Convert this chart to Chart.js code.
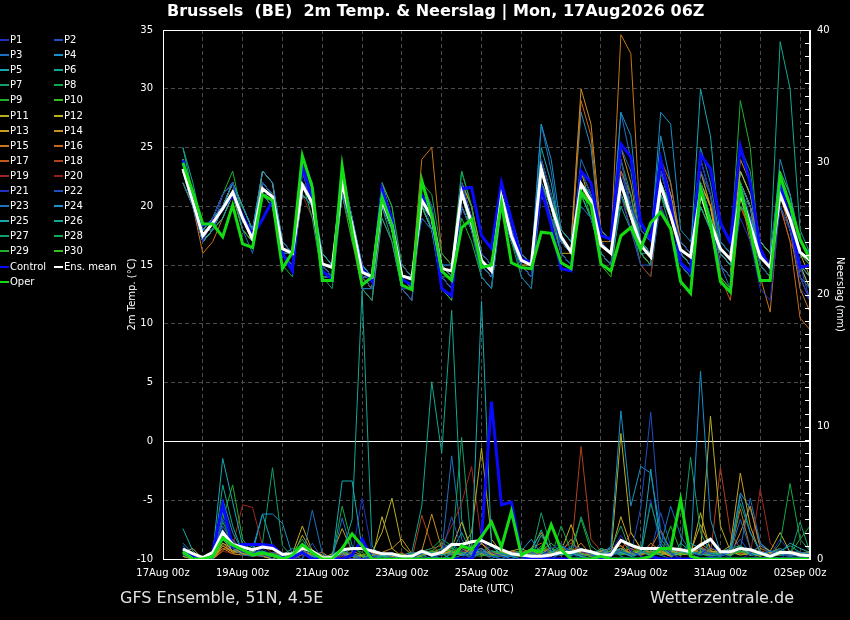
<!DOCTYPE html>
<html>
<head>
<meta charset="utf-8">
<script src="https://cdn.jsdelivr.net/npm/chart.js@4.4.1/dist/chart.umd.min.js"></script>
<style>
  html, body { margin: 0; padding: 0; background: #000; }
  #wrap { position: relative; width: 850px; height: 620px; background: #000; font-family: "DejaVu Sans", sans-serif; color: #fff; overflow: hidden; }
  #chart { position: absolute; left: 0; top: 0; }
  .title { position: absolute; left: 167px; top: 1px; font-weight: bold; font-size: 16px; line-height: 19px; white-space: pre; }
  .foot { position: absolute; top: 588px; font-size: 16px; line-height: 19px; color: #e0e0e0; }
  #legend { position: absolute; left: 0; top: 0; width: 135px; height: 300px; font-size: 10px; }
  .item { position: absolute; height: 12px; line-height: 12px; white-space: nowrap; }
  .item i { position: absolute; left: 0; top: 5px; width: 9px; height: 2px; }
  .item span { position: absolute; left: 10px; top: 0; }
</style>
</head>
<body>
<div id="wrap">
  <canvas id="chart" width="850" height="620"></canvas>
  <div class="title">Brussels  (BE)  2m Temp. &amp; Neerslag | Mon, 17Aug2026 06Z</div>
  <div class="foot" style="left:120px">GFS Ensemble, 51N, 4.5E</div>
  <div class="foot" style="right:56px">Wetterzentrale.de</div>
  <div id="legend"></div>
</div>
<script>
// forecast hours after 17Aug 00z (6-hourly)
const hours = [12,18,24,30,36,42,48,54,60,66,72,78,84,90,96,102,108,114,120,126,132,138,144,150,156,162,168,174,180,186,192,198,204,210,216,222,228,234,240,246,252,258,264,270,276,282,288,294,300,306,312,318,324,330,336,342,348,354,360,366,372,378,384,390];

const dayLabels = ['17Aug 00z','18Aug 00z','19Aug 00z','20Aug 00z','21Aug 00z','22Aug 00z','23Aug 00z','24Aug 00z','25Aug 00z','26Aug 00z','27Aug 00z','28Aug 00z','29Aug 00z','30Aug 00z','31Aug 00z','01Sep 00z','02Sep 00z'];

const memberNames = ['P1','P2','P3','P4','P5','P6','P7','P8','P9','P10','P11','P12','P13','P14','P15','P16','P17','P18','P19','P20','P21','P22','P23','P24','P25','P26','P27','P28','P29','P30'];

const memberColors = ['#1e30c0','#1e50c0','#1a70c0','#1890c8','#18a8b0','#10a890','#10a068','#10a848','#20b030','#30c020',
                      '#b8b020','#c0b020','#c8a020','#c89020','#c87818','#c86818','#c05818','#b04020','#a02820','#902020',
                      '#2030c0','#2050c0','#2070c0','#2090c8','#18a8b0','#10a890','#10a070','#10a850','#20b030','#30c020'];

// 2m temperature (°C)
const meanTemp = [23.2,20.4, 17.5,18.6,19.8,21.2, 19.0,17.2,21.5,20.8, 16.4,16.0,21.8,20.3, 15.1,14.8,22.0,18.4, 14.4,14.0,20.5,18.4, 14.1,13.8,20.5,19.1, 14.7,14.5,21.2,18.6, 15.4,14.5,20.8,17.5, 15.4,15.0,23.2,20.1, 17.4,16.1,21.9,20.5, 16.7,16.0,22.0,19.2, 16.7,15.7,21.8,19.2, 16.3,15.7,21.2,18.6, 16.4,15.5,21.2,18.4, 15.7,14.8,21.0,18.9, 16.1,15.4];
const controlTemp = [23.9,20.6, 18.4,18.6,19.8,21.0, 19.2,17.5,18.9,20.5, 16.0,14.5,23.4,20.6, 14.5,13.8,23.0,18.1, 14.7,13.6,21.5,18.9, 13.8,13.3,20.9,19.2, 13.0,12.4,21.5,21.6, 17.5,16.4,22.0,18.9, 15.5,15.2,21.5,18.4, 14.7,14.5,23.0,22.0, 17.5,17.2,25.3,24.2, 18.6,17.2,24.0,20.3, 15.2,14.4,24.4,23.2, 18.6,16.9,25.1,22.0, 16.4,14.7,21.8,18.9, 14.8,15.0];
const operTemp = [23.7,21.2, 18.5,18.5,17.4,20.1, 16.8,16.5,21.0,20.5, 14.7,16.1,24.3,21.6, 13.7,13.7,23.4,17.8, 13.3,14.0,20.8,18.4, 13.3,12.9,22.2,19.2, 14.5,13.7,18.2,18.9, 14.8,15.0,20.3,15.2, 14.8,14.7,17.8,17.7, 15.2,14.7,21.2,20.1, 15.1,14.5,17.5,18.2, 16.4,18.6,19.5,18.1, 13.6,12.6,21.6,18.6, 13.6,12.7,21.6,17.9, 13.7,13.7,22.6,20.1, 17.2,15.5];
const memberTemp = [
  [23,20, 17,19,21,22, 19,17,22,21, 16,15,23,20, 15,14,23,19, 14,13,21,19, 13,13,22,20, 14,13,22,19, 16,15,22,18, 15,14,24,21, 16,15,23,21, 17,16,24,20, 18,17,23,20, 17,16,22,19, 15,14,19,17, 13,12,20,18, 14,12],
  [23,21, 18,18,20,21, 19,18,21,21, 17,16,22,21, 15,15,21,18, 14,14,20,18, 15,14,19,18, 15,15,20,18, 15,14,20,17, 16,15,22,19, 17,16,20,19, 16,15,21,18, 15,15,20,18, 15,14,23,21, 17,16,22,19, 15,14,21,19, 15,12],
  [22,20, 17,19,21,22, 18,16,21,21, 16,16,21,20, 14,14,22,18, 13,13,20,18, 13,12,21,20, 14,13,22,19, 14,13,20,18, 14,13,21,20, 17,16,24,22, 18,17,25,23, 17,16,23,20, 16,15,22,19, 15,13,22,20, 16,15,20,18, 14,13],
  [24,21, 18,19,20,22, 20,18,23,22, 17,16,22,21, 16,15,23,19, 15,14,21,19, 14,14,21,19, 15,14,22,19, 15,14,21,18, 16,15,27,24, 18,17,22,21, 18,17,28,26, 18,17,28,27, 18,17,22,19, 16,15,21,19, 16,15,24,21, 17,16],
  [23,20, 17,18,19,21, 19,17,22,21, 16,16,21,20, 15,15,22,18, 15,14,21,19, 14,14,20,19, 15,15,21,19, 16,15,22,18, 16,15,25,22, 17,16,22,21, 17,16,22,20, 17,16,21,19, 17,16,30,26, 17,16,21,19, 16,15,22,20, 15,14],
  [25,21, 17,18,20,22, 19,18,22,21, 16,15,24,22, 15,14,22,19, 13,12,19,17, 13,13,20,18, 14,13,20,18, 15,14,20,17, 15,14,22,20, 16,15,21,19, 16,15,20,18, 16,16,22,20, 15,14,20,18, 15,14,20,19, 17,16,34,30, 18,16],
  [23,20, 18,19,20,21, 20,18,21,20, 16,16,22,20, 16,15,21,18, 15,14,21,18, 14,14,19,18, 15,14,21,18, 16,15,20,18, 15,14,24,21, 18,17,22,21, 17,16,24,21, 17,16,23,20, 16,15,20,18, 16,15,25,23, 16,15,22,20, 15,14],
  [24,21, 18,18,19,21, 18,17,21,20, 15,14,22,19, 14,14,21,18, 13,13,21,19, 15,14,22,21, 16,15,23,20, 15,14,21,17, 14,13,22,19, 16,15,20,19, 17,16,21,19, 16,15,21,19, 17,16,22,19, 17,16,21,18, 15,14,20,18, 16,15],
  [23,21, 18,19,21,23, 19,17,22,21, 17,16,22,21, 15,14,21,17, 14,14,22,20, 15,14,21,19, 14,14,19,17, 14,13,21,18, 15,14,23,21, 16,15,21,19, 16,15,22,19, 16,15,22,20, 16,15,21,19, 17,16,29,25, 15,14,21,19, 16,15],
  [22,20, 17,18,20,21, 19,17,21,20, 16,15,21,20, 15,14,22,18, 15,14,21,19, 14,13,20,18, 13,12,21,18, 15,15,21,18, 15,14,22,20, 16,15,21,20, 15,14,21,19, 17,16,22,20, 15,14,21,18, 14,13,20,19, 16,15,23,21, 17,16],
  [23,20, 18,19,21,22, 19,17,22,21, 16,15,23,20, 14,14,23,19, 14,13,21,18, 14,14,21,19, 15,14,22,20, 16,15,21,18, 15,15,24,21, 17,16,23,20, 16,15,21,19, 17,16,22,19, 16,15,21,18, 15,14,22,20, 16,15,21,19, 15,14],
  [24,21, 18,19,20,22, 20,18,22,21, 17,16,21,20, 16,15,23,19, 14,14,20,18, 15,14,20,18, 15,14,21,19, 15,14,20,17, 16,15,21,19, 17,16,23,21, 18,17,24,20, 17,16,23,21, 17,16,22,20, 16,15,23,21, 17,16,21,19, 16,14],
  [23,20, 17,18,20,21, 18,17,21,20, 16,15,22,20, 15,15,21,18, 14,13,22,19, 14,13,22,20, 14,13,20,18, 16,15,20,17, 15,14,23,20, 16,16,21,20, 17,16,22,19, 16,15,23,21, 16,15,20,18, 15,14,22,20, 17,16,20,18, 15,13],
  [22,20, 17,18,20,22, 19,17,23,22, 16,16,21,20, 15,14,21,18, 14,14,21,19, 15,14,21,19, 15,14,22,19, 15,14,21,18, 15,14,22,20, 18,17,30,27, 18,17,25,22, 17,16,24,21, 16,15,23,20, 15,14,24,22, 17,16,22,19, 14,12],
  [23,20, 16,17,19,21, 18,17,21,21, 16,15,22,20, 15,14,22,18, 14,13,20,18, 14,14,24,25, 16,15,20,18, 15,14,21,18, 16,15,22,19, 17,16,22,20, 17,17,34.6,33, 18,17,22,20, 15,14,22,20, 15,14,21,17, 14,11,21,18, 13,11],
  [23,21, 17,18,20,22, 19,18,22,21, 17,16,22,20, 15,14,22,18, 14,13,21,18, 14,13,21,19, 15,14,22,19, 15,14,22,18, 15,14,22,20, 17,16,29,26, 17,16,23,21, 17,16,24,22, 17,16,22,20, 16,15,22,20, 15,14,20,17, 10.5,9.5],
  [24,21, 17,19,21,22, 19,17,21,20, 16,15,22,20, 15,14,21,18, 14,13,20,18, 15,14,21,19, 14,13,21,18, 15,14,21,18, 16,15,23,20, 17,16,22,20, 17,16,21,19, 16,15,22,20, 16,15,23,21, 14,12,20,18, 16,15],
  [23,20, 18,18,20,21, 19,18,22,21, 17,16,22,21, 15,15,21,18, 15,14,21,18, 13,13,20,18, 15,14,21,19, 15,14,20,18, 15,15,22,20, 17,16,22,20, 16,15,22,19, 16,15,21,19, 16,15,21,18, 16,15,20,18, 15,14,20,17, 15,14],
  [22,20, 17,18,19,21, 18,17,21,20, 16,15,21,19, 14,14,21,17, 13,12,19,17, 13,12,20,18, 14,13,21,18, 15,14,20,17, 15,14,22,19, 16,15,21,19, 16,15,21,18, 15,14,22,20, 16,15,21,19, 14,13,20,18, 16,15,22,20, 16,15],
  [23,20, 17,18,20,21, 19,17,22,21, 17,16,21,20, 15,14,22,18, 14,13,21,19, 14,14,21,19, 16,15,22,20, 15,14,21,18, 15,14,23,20, 17,16,22,20, 16,15,21,18, 17,16,20,18, 17,16,22,19, 15,14,21,19, 16,15,20,18, 16,15],
  [24,21, 18,19,20,22, 19,17,22,21, 16,15,22,21, 15,15,23,19, 14,13,20,18, 14,14,21,19, 15,14,20,18, 15,14,22,19, 15,14,23,21, 16,15,23,21, 17,16,23,20, 17,16,23,21, 17,16,24,21, 16,15,21,19, 15,14,22,20, 13,12],
  [23,21, 17,18,21,22, 19,18,22,21, 16,15,22,20, 15,14,21,18, 14,14,21,19, 13,12,21,18, 13,12,20,18, 14,13,21,18, 15,14,21,19, 16,15,22,20, 17,16,22,21, 16,15,24,21, 16,15,22,19, 14,13,22,20, 15,14,21,19, 14,13],
  [23,20, 18,19,20,21, 19,17,22,21, 16,16,22,20, 15,14,21,18, 15,14,22,19, 14,13,21,19, 15,14,21,18, 16,15,21,18, 16,15,27,23, 17,16,21,20, 17,16,28,24, 18,17,23,20, 17,16,24,21, 17,16,21,19, 17,16,23,21, 16,15],
  [24,21, 17,18,20,22, 20,18,23,22, 17,16,21,20, 15,14,22,19, 15,14,21,19, 14,14,22,20, 15,14,22,19, 16,15,22,19, 16,15,23,20, 18,17,28,25, 17,16,22,20, 18,17,26,22, 17,16,25,22, 17,16,22,20, 15,14,21,19, 15,13],
  [23,20, 17,18,20,21, 19,17,21,20, 16,15,21,20, 15,14,22,18, 14,13,20,18, 14,13,21,19, 14,13,20,18, 15,14,21,18, 15,14,22,20, 17,16,22,20, 16,15,23,20, 17,16,22,20, 16,15,22,19, 16,15,23,21, 16,15],
  [25,22, 18,19,21,22, 20,18,23,22, 17,16,23,21, 16,15,22,19, 15,14,22,20, 14,13,21,19, 15,14,23,20, 15,14,22,19, 16,15,23,20, 16,15,22,20, 17,16,22,20, 16,15,23,20, 17,16,24,21, 16,15,23,21, 17,16],
  [23,20, 17,18,20,21, 19,17,21,20, 16,15,22,20, 14,13,21,18, 13,12,20,17, 13,12,20,18, 14,13,21,18, 14,13,20,17, 15,14,21,19, 16,15,21,19, 16,15,22,19, 15,14,21,18, 15,14,22,19, 15,14,22,20, 16,15],
  [24,21, 18,19,21,22, 19,17,22,21, 16,15,23,21, 15,14,22,19, 14,13,21,19, 14,13,21,19, 15,14,22,19, 15,14,21,18, 15,14,22,20, 17,16,22,21, 16,15,23,21, 16,15,22,20, 16,15,23,20, 17,16,22,20, 15,14],
  [23,20, 17,18,20,22, 19,17,21,20, 16,15,22,20, 15,14,21,18, 14,14,21,18, 14,14,20,19, 15,14,21,19, 15,14,21,18, 16,15,22,20, 16,15,22,19, 16,15,21,19, 16,15,21,19, 16,15,22,20, 16,15,21,20, 16,15],
  [24,21, 18,19,20,22, 19,18,22,21, 16,15,22,21, 15,15,22,19, 14,13,21,18, 14,14,22,19, 15,14,22,20, 16,15,22,19, 16,15,22,20, 17,16,23,21, 16,15,22,20, 17,16,22,20, 17,16,22,20, 16,15,22,20, 15,14]
];

// precipitation (mm)
const meanPrecip = [0.75,0.4, 0.1,0.5,2.0,1.1, 0.9,0.7,0.9,0.8, 0.35,0.4,0.8,0.6, 0.1,0.1,0.7,0.8, 0.8,0.6,0.4,0.4, 0.2,0.2,0.6,0.3, 0.5,1.1,1.1,1.3, 1.4,1.05,0.7,0.4, 0.3,0.2,0.2,0.3, 0.5,0.5,0.7,0.55, 0.3,0.3,1.4,1.05, 0.8,0.8,0.8,0.8, 0.7,0.55,1.05,1.5, 0.55,0.55,0.8,0.7, 0.45,0.2,0.5,0.5, 0.3,0.25];
const controlPrecip = [0.75,0.3, 0,0.5,4.1,0.9, 1.1,1.1,1.1,1.0, 0.3,0.1,0.5,0, 0,0,0,0.3, 1.5,0,0,0, 0,0,0,0, 0,0,0,0, 1.6,11.9,4.1,4.3, 0.3,0,0,0, 0,0,0,0, 0,0,0,0, 0,0.2,0,0, 0,0,0,0.1, 0,0,0,0, 0,0,0,0, 0,0];
const operPrecip = [0.55,0, 0,0.2,1.6,1.05, 0.7,0.3,0.45,0.3, 0,0.3,1.1,0.5, 0,0,0.8,1.9, 1.0,0,0,0, 0,0,0,0, 0,0,1.0,0.7, 1.7,2.8,0.9,3.6, 0.3,0.7,0.55,2.6, 0.7,0,0,0, 0.2,0,0,0, 0,0.2,0.8,0.8, 4.5,0.2,0,0, 0,0,0,0, 0,0,0,0, 0,0];
const memberPrecip = [
  [0.5,0, 0,0.3,2.5,1, 0.5,0.4,0.8,0.2, 0,0,0.5,0, 0,0,0.3,0, 0,0.2,0,0, 0,0,0.5,0.3, 0,0,0,0.8, 1.5,0.5,0.2,0, 0,0,0.3,0.8, 1.2,0.4,0,0, 0.3,0.5,1.8,0.6, 0.2,0,1.2,0.4, 0,0,0.3,0.9, 0.5,0,0,0.4, 1.1,0.3,0,0.6, 0,0],
  [0.3,0, 0,0.2,3.0,1.4, 0.8,0.3,0.2,0.5, 0.4,0,0,1.2, 0,0,0.8,0.3, 0,0,0.5,0, 0,0,0,0, 0.4,3.2,0.8,0.2, 0.6,0.2,0,0, 0,0.5,0.2,0, 0.4,1.0,0.8,0.3, 0,0.2,0.6,0.3, 3.9,11.1,2.0,0.5, 0,0,0.7,0.4, 0.2,0.6,1.5,0.4, 0,0.3,0.8,0.2, 0,0],
  [1.0,0.2, 0,0,1.5,0.8, 0.3,0.2,0.4,0, 0,0.3,0,3.7, 0.4,0,3.1,0.5, 0,0.2,0,0, 0,0.5,0.3,0, 0.8,1.2,0.5,0, 0.5,0,0.4,0.2, 0,0,0.5,0.3, 1.0,0.6,0.3,0, 0.5,0.8,0.2,0, 0.6,0.2,1.0,4.0, 1.8,0.5,0.3,1.4, 0.3,0.5,3.0,0.8, 0.4,0.6,0.3,0.2, 0.5,0.4],
  [1.2,0.4, 0,0,4.5,2.0, 0.6,0.8,3.4,3.4, 2.7,0.3,0.5,0.2, 0,0.2,0.5,0, 0,0.4,0,0.3, 0,0,0.6,0.2, 0,0.4,0.3,0.5, 0.8,0.2,0,0.3, 0.6,1.5,0.4,0, 0.5,0.2,0.8,0.3, 0.2,1.0,11.2,4.0, 7.0,6.5,2.0,0.8, 0.6,0.4,14.2,3.0, 0.5,0.8,4.8,2.0, 0.6,0.2,0.4,0.3, 0.2,0],
  [2.3,0.6, 0,0.4,7.6,4.3, 1.0,0.5,0.6,0.3, 0.2,0,0.8,0.5, 0,0,5.9,5.9, 0.8,0,0.3,0, 0,0.2,0,0, 0.4,0,0.3,0.2, 19.5,1.0,0.3,0, 0.5,0.2,1.8,0.6, 0.3,0.5,0.2,0, 0.8,0.3,0.5,0.2, 0.4,6.8,1.0,0.3, 0.5,1.2,0.8,0.3, 0.2,0.5,1.0,0.4, 0.3,0.6,0.5,1.2, 0.8,0.5],
  [0.8,0, 0,0,5.6,2.5, 0.5,1.0,0.4,0.2, 0.3,0.8,0.5,0.2, 0,0,0.5,3.0, 20.3,1.0,0,0, 0,0.3,0.4,0.5, 0.3,0.5,2.0,0.5, 0.6,0.2,0,0.4, 0.3,0.6,2.2,0.5, 1.0,0.4,0.2,0, 0.3,0.5,0.8,0.2, 0.5,0.8,0.3,0, 1.2,0.6,0.3,0.4, 0.5,0.2,0.8,0.3, 0.4,0,0.6,1.0, 0.5,0.2],
  [0.5,0, 0,0.3,3.8,1.0, 0.6,0.4,1.2,6.9, 1.0,0.2,0.5,0, 0,0.3,0.8,0.2, 0,0,0,0.3, 0.2,0,0.5,0.3, 0,0.4,9.2,0.8, 0.5,1.0,0.4,0.2, 0,0.3,3.5,0.8, 0.5,0.2,3.2,1.0, 0.4,0.8,2.5,0.5, 0.3,4.2,1.5,0.6, 0.8,7.7,2.0,0.5, 0.3,0.6,4.2,2.0, 0.5,0.3,0.8,0.4, 0.2,0.5],
  [0.4,0.2, 0,0,2.5,1.2, 0.8,0.3,0.5,0.4, 0.2,0.5,1.5,0.3, 0,0,4.0,1.0, 0.3,0,0.2,0, 0,0.4,0.6,0.8, 1.5,1.0,0.5,0.3, 0.5,0.3,0.2,0, 0.3,0.8,0.5,0.2, 2.5,0.6,0.4,0.2, 0.8,0.5,0.3,1.2, 0.6,0.4,0.8,0.3, 0.5,0.3,0.6,0.4, 0.3,0.8,1.0,0.5, 0.3,0.2,1.2,5.7, 1.5,0.6],
  [0.6,0, 0,0,3.0,5.6, 1.5,0.4,0.6,0.3, 0.2,0,0.8,0.5, 0,0.2,0.3,0.8, 0.5,0,0.2,0.4, 0.3,0,0.4,0.6, 1.2,0.8,0.5,0.3, 0.2,0.6,0.4,0.3, 0.5,0.2,1.0,0.5, 0.3,0.8,3.0,0.6, 0.4,0.3,0.6,0.3, 1.0,0.5,0.3,2.5, 0.6,0.5,0.4,0.2, 0.3,0.6,0.5,0.8, 0.5,0.3,0.6,0.4, 1.5,2.5],
  [0.3,0, 0,0.2,2.0,1.0, 0.5,0.3,0.4,0.2, 0,0.3,1.0,0.4, 0,0,0.6,0.3, 0.2,0,0,0.3, 0.4,0,0.2,0.5, 0.8,0.6,0.4,0.5, 0.3,0.2,0.5,0.2, 0.4,0.3,0.6,1.2, 0.5,0.3,0.8,0.4, 0.2,0.6,0.3,0.5, 0.6,0.3,1.2,0.5, 0.3,0.6,0.4,0.2, 0.5,0.3,0.6,0.3, 0.4,0.2,0.3,0.5, 0.3,0.2],
  [0.4,0, 0,0,1.2,0.8, 0.4,0.6,0.2,0, 0.3,0.2,1.8,0.5, 0,0.2,0.3,0, 0,0.5,2.0,4.6, 1.0,0.3,0.6,0.2, 0.4,0.5,0.8,2.0, 8.4,1.5,0.5,0.3, 0.2,0.6,0.4,0.8, 0.3,0.5,0.2,0, 0.6,0.3,9.5,2.0, 0.8,0.5,0.3,0.6, 0.4,0.8,0.5,10.8, 2.5,0.6,0.3,0.4, 0.2,0.5,0.8,0.3, 0.4,0.2],
  [0.2,0, 0,0.3,1.5,0.6, 0.8,0.3,0.5,0.2, 0,0.4,2.5,0.6, 0.3,0,0.5,0.2, 0.3,0,3.2,0.8, 0.2,0,0.4,0.3, 0.5,0.8,2.8,0.6, 0.4,0.3,0.2,0.6, 0.8,0.4,0.3,0.5, 0.6,2.6,0.4,0.2, 0.3,0.5,0.8,0.4, 0.6,0.3,0.5,0.2, 0.4,0.3,3.5,0.6, 0.5,0.3,0.8,0.4, 1.0,0.6,2.0,0.5, 0.3,0.5],
  [0.5,0.8, 0,0,1.0,0.5, 0.6,0.3,0.2,0.4, 0.2,0,0.4,0.2, 0,0.4,2.3,0.6, 0.3,0,0.5,0.2, 0,0.3,0.2,0.5, 0.4,0.6,0.3,0.8, 1.2,0.5,0.3,0.4, 0.2,0.8,2.0,0.5, 0.3,0.6,0.4,0.2, 0.8,0.5,3.2,1.0, 0.5,0.3,0.6,0.4, 0.3,0.5,2.6,0.8, 0.5,1.0,6.5,2.5, 0.4,0.3,0.6,0.5, 0.3,0.2],
  [0.3,0, 0,0,0.8,0.4, 0.3,0.5,0.2,0, 0.4,0.2,0.6,0.3, 0.5,0,0.3,0.2, 0,0.3,0.5,0.8, 1.5,0.4,0.6,3.4, 0.8,0.5,0.3,0.4, 1.2,0.3,0.5,0.2, 0.4,0.3,0.6,0.8, 0.5,1.5,0.3,0.4, 0.6,0.8,1.0,0.4, 0.3,0.6,0.5,0.3, 0.8,0.4,1.2,0.6, 0.5,0.3,2.0,4.0, 0.8,0.5,0.3,0.6, 0.4,0.3],
  [0.2,0, 0,0,1.0,0.6, 0.4,0.2,0.3,0.5, 0.3,0,0.5,0.4, 0,0.2,0.4,0, 0.3,0.5,0.2,0, 0.4,0,0.3,0.6, 0.5,0.3,0.8,0.4, 0.6,0.4,0.3,0.2, 0.5,0.6,0.3,0.4, 0.8,0.5,1.2,0.3, 0.6,0.4,0.5,0.8, 0.3,1.2,0.6,0.4, 0.5,0.3,0.8,0.6, 0.4,0.6,0.5,0.3, 0.6,0.4,0.5,0.3, 0.4,0.6],
  [0.4,0, 0,0,0.6,1.5, 0.5,0.3,0.4,0.2, 0,0.3,0.6,0.2, 0,0.3,0.5,0.4, 0.2,0,0.4,0, 0,0.3,0.6,0.4, 0.3,0.5,0.4,0.6, 0.8,0.3,0.5,0.4, 0.3,0.5,0.6,2.5, 0.6,0.8,0.4,0.3, 0.5,0.6,1.5,0.5, 0.4,0.8,2.2,0.6, 0.5,0.3,1.0,0.4, 0.6,0.5,3.8,0.8, 0.3,0.5,0.6,0.4, 0.5,0.3],
  [0.3,0, 0,0.3,1.2,0.5, 0.8,0.4,0.3,0.2, 0.2,0,0.4,0.3, 0,0,0.3,0.5, 0,0.3,0,0.4, 0.3,0,0.5,0.3, 0.6,0.4,0.3,0.5, 0.4,0.5,0.3,0.6, 0.4,0.8,1.2,0.5, 0.3,0.6,0.8,0.4, 0.5,0.3,0.6,2.0, 0.8,0.4,0.5,0.3, 0.6,0.8,0.4,0.3, 0.5,0.6,0.4,0.8, 0.5,0.3,0.6,0.4, 0.2,0.5],
  [0.2,0, 0,0,0.8,0.6, 0.5,0.3,0.4,0.2, 0,0.2,0.5,0.3, 0,0,0.4,0.2, 0.3,0,0.4,0.2, 0.5,0,3.3,1.0, 0.4,0.6,0.8,0.5, 0.3,0.2,0.6,0.4, 0.5,0.3,0.8,0.5, 0.6,0.4,8.5,1.5, 0.6,0.4,0.5,0.8, 0.5,0.3,0.6,0.4, 0.8,0.5,0.6,0.3, 6.9,2.0,0.8,0.5, 0.4,0.6,0.3,0.5, 0.3,0.2],
  [0.3,0, 0,0,2.0,1.0, 4.1,3.9,1.0,0.4, 0.2,0,0.5,0.3, 0,0,0.4,0.2, 0,0,0.3,0.2, 0,0.3,0.5,0.8, 1.0,2.5,4.2,7.0, 1.5,0.5,0.3,0.4, 0.6,0.3,0.5,0.2, 0.8,1.2,0.6,0.3, 0.5,0.8,1.0,0.4, 0.6,0.3,0.5,0.2, 0.4,0.3,0.6,0.5, 0.3,0.5,0.8,0.3, 5.3,1.2,0.4,0.3, 0.5,0.3],
  [0.2,0, 0,0,0.6,0.4, 0.3,0.5,0.2,0.3, 0,0,0.3,0.2, 0,0,0.2,0, 0.2,0,0.3,0, 0,0.2,0.4,0.3, 0.3,0.5,0.6,0.4, 0.5,0.3,0.2,0.3, 0.4,0.2,0.5,0.3, 0.5,0.6,0.3,0.2, 0.4,0.3,0.5,0.6, 0.3,0.5,0.4,0.3, 0.5,0.3,0.6,0.4, 0.3,0.5,0.4,0.3, 0.6,0.3,0.5,0.2, 0.3,0.4],
  [0.4,0, 0,0,1.5,0.8, 0.5,0.3,0.4,0.2, 0,0.3,0.6,0.2, 0,0,0.5,0.3, 4.6,0.5,0,0, 0.3,0,0.4,0.2, 0.5,0.3,0.6,0.4, 0.8,0.4,0.3,0.2, 0.5,0.3,0.6,0.4, 0.3,0.5,0.4,0.3, 0.6,0.8,0.5,0.4, 0.3,4.5,0.8,0.4, 0.5,0.3,0.6,0.4, 0.3,0.5,0.8,0.6, 0.4,0.3,1.5,0.5, 0.3,0.2],
  [0.5,0.2, 0,0,2.0,1.0, 0.6,0.4,0.3,0.2, 0.3,0,0.5,0.4, 0,0,0.6,0.3, 0.2,0,0.3,0.2, 0,0.4,0.3,0.6, 0.5,0.8,0.4,0.3, 0.5,0.3,0.4,0.6, 0.3,0.6,0.4,0.5, 0.6,0.3,0.5,0.4, 0.5,0.4,0.6,0.3, 0.6,0.5,3.5,1.0, 4.5,0.6,0.5,0.3, 0.5,0.4,0.6,0.3, 0.5,0.3,0.4,0.6, 0.5,0.3],
  [0.3,0, 0,0,1.2,0.6, 0.4,0.3,0.5,0.2, 0,0.2,0.4,0.3, 0,0.3,0.5,0.2, 0,0.2,0.3,0, 0.2,0,0.3,0.5, 0.4,7.8,1.5,0.4, 0.5,0.3,0.6,0.4, 0.3,0.5,0.4,0.6, 0.5,0.4,0.3,0.5, 0.6,0.3,0.8,0.5, 0.4,0.6,0.5,0.3, 0.6,0.4,0.5,0.3, 0.4,0.6,0.8,4.6, 1.2,0.5,0.4,0.3, 0.5,0.4],
  [0.4,0.2, 0,0,2.2,1.0, 0.5,0.6,0.3,0.2, 0.3,0,0.5,0.3, 0,0,0.4,0.2, 0,0,0.3,0.2, 0.3,0,0.5,0.4, 0.3,0.6,0.4,0.5, 0.6,0.4,0.3,0.2, 0.5,0.3,0.6,0.4, 0.3,0.5,0.4,0.3, 0.5,0.8,0.6,0.4, 0.6,0.3,0.5,0.4, 0.3,0.6,0.8,0.5, 0.4,0.5,5.0,3.8, 1.2,0.6,0.4,0.5, 0.3,0.4],
  [0.6,0, 0,0,3.5,1.2, 0.6,0.5,3.4,1.0, 0.4,0.2,0.6,0.3, 0,0.4,0.6,0.3, 0.2,0,0.4,0.3, 0,0.3,0.5,0.6, 0.5,0.4,0.6,0.3, 0.4,0.6,0.5,0.3, 0.6,0.5,0.8,0.4, 0.5,0.3,0.6,0.4, 0.5,0.6,0.5,0.3, 0.6,0.4,0.8,0.5, 0.3,0.5,0.4,0.6, 0.5,0.3,0.6,0.4, 0.5,0.3,0.6,0.4, 0.3,0.5],
  [0.5,0, 0,0.2,2.2,0.8, 0.5,0.3,0.4,0.3, 0.2,0,0.5,0.4, 0,0,0.4,0.3, 0.3,0,0.2,0.4, 0.3,0.5,4.0,13.4, 8.0,18.8,3.0,0.6, 0.5,0.4,0.3,0.5, 0.6,0.3,0.5,0.4, 0.5,0.6,0.4,0.3, 0.6,0.5,0.8,0.4, 0.5,0.6,0.4,0.3, 0.5,0.4,0.6,0.3, 0.4,0.5,0.6,0.3, 0.5,0.4,0.3,0.5, 0.4,0.3],
  [0.3,0, 0,0,1.5,0.8, 0.4,0.5,0.3,0.2, 0.3,0,0.4,0.3, 0,0.3,0.5,0.2, 0,0.2,0.4,0, 0.3,0,0.4,0.5, 0.6,0.4,0.8,0.5, 0.5,0.3,0.4,0.6, 0.3,0.5,0.6,0.4, 0.5,0.3,0.6,0.4, 0.5,0.6,0.4,0.3, 0.5,0.4,0.6,0.8, 0.4,0.5,0.3,0.6, 0.5,0.4,0.6,0.3, 0.4,0.5,0.6,0.3, 2.8,0.5],
  [0.4,0, 0,0,2.8,1.2, 0.6,0.4,0.5,0.3, 0.2,0.3,0.6,0.4, 0,0,0.5,0.3, 0.2,0,0.3,0.2, 0.3,0,0.5,0.6, 0.4,0.5,0.6,0.4, 0.5,0.3,0.4,0.5, 0.6,0.4,0.8,0.5, 0.6,0.5,0.4,0.3, 0.6,0.5,0.4,0.6, 0.5,0.8,0.6,0.4, 0.5,0.6,0.4,0.3, 0.5,0.6,0.8,0.4, 0.3,0.5,0.4,0.6, 0.5,0.3],
  [0.5,0, 0,0,2.0,1.0, 0.5,0.3,0.4,0.2, 0,0.2,0.5,0.3, 0,0,0.4,0.2, 0,0.2,0.3,0, 0,0.3,0.4,0.5, 0.5,0.6,0.5,0.4, 0.4,0.6,0.5,0.3, 0.5,0.4,0.6,0.5, 0.4,0.5,0.3,0.6, 0.5,0.4,0.6,0.5, 0.4,0.6,0.5,0.3, 0.6,0.4,0.5,0.6, 0.4,0.5,0.3,0.6, 0.5,0.4,0.6,0.5, 0.4,0.3],
  [0.3,0, 0,0,1.8,0.8, 0.4,0.3,0.5,0.2, 0,0.2,0.4,0.3, 0,0,0.5,0.3, 0,0.3,0.2,0, 0.2,0,0.3,0.4, 0.5,0.4,0.6,0.5, 0.3,0.5,0.4,0.3, 0.6,0.4,0.5,0.3, 0.4,0.5,0.6,0.3, 0.5,0.4,0.6,0.5, 0.3,0.5,0.4,0.6, 0.5,0.4,0.6,0.3, 0.5,0.4,0.6,0.5, 0.3,0.6,0.4,0.3, 0.4,0.5]
];

function pts(vals) {
  return vals.map((v, i) => ({ x: hours[i], y: v }));
}

const datasets = [];
memberNames.forEach((name, k) => {
  datasets.push({ label: name, data: pts(memberTemp[k]), yAxisID: 'y', borderColor: memberColors[k], borderWidth: 1, order: 10 });
  datasets.push({ label: name, data: pts(memberPrecip[k]), yAxisID: 'y2', borderColor: memberColors[k], borderWidth: 1, order: 10 });
});
datasets.push({ label: 'Control', data: pts(controlTemp), yAxisID: 'y', borderColor: '#0a0aff', borderWidth: 3, order: 3 });
datasets.push({ label: 'Control', data: pts(controlPrecip), yAxisID: 'y2', borderColor: '#0a0aff', borderWidth: 3, order: 3 });
datasets.push({ label: 'Ens. mean', data: pts(meanTemp), yAxisID: 'y', borderColor: '#ffffff', borderWidth: 3, order: 2 });
datasets.push({ label: 'Ens. mean', data: pts(meanPrecip), yAxisID: 'y2', borderColor: '#ffffff', borderWidth: 3, order: 2 });
datasets.push({ label: 'Oper', data: pts(operTemp), yAxisID: 'y', borderColor: '#14dc14', borderWidth: 3, order: 1 });
datasets.push({ label: 'Oper', data: pts(operPrecip), yAxisID: 'y2', borderColor: '#14dc14', borderWidth: 3, order: 1 });

// white zero line, frame and small mm ticks
const framePlugin = {
  id: 'frame',
  beforeDatasetsDraw(chart) {
    const { ctx, chartArea: a, scales } = chart;
    const y0 = Math.round(scales.y.getPixelForValue(0)) + 0.5;
    ctx.save();
    ctx.strokeStyle = '#ffffff';
    ctx.lineWidth = 1;
    ctx.beginPath();
    ctx.moveTo(a.left, y0);
    ctx.lineTo(a.right, y0);
    ctx.stroke();
    ctx.restore();
  },
  afterDatasetsDraw(chart) {
    const { ctx, chartArea: a, scales } = chart;
    ctx.save();
    ctx.strokeStyle = '#ffffff';
    ctx.lineWidth = 1;
    ctx.strokeRect(Math.round(a.left) + 0.5, Math.round(a.top) + 0.5, Math.round(a.right - a.left) - 1, Math.round(a.bottom - a.top));
    const y2 = scales.y2;
    ctx.beginPath();
    for (let v = y2.min; v <= y2.max; v++) {
      const py = Math.round(y2.getPixelForValue(v)) + 0.5;
      ctx.moveTo(a.right - 5, py);
      ctx.lineTo(a.right, py);
    }
    ctx.stroke();
    ctx.restore();
  }
};

Chart.defaults.font.family = '"DejaVu Sans", sans-serif';
Chart.defaults.color = '#ffffff';

new Chart(document.getElementById('chart'), {
  type: 'line',
  data: { datasets: datasets },
  options: {
    responsive: false,
    animation: false,
    devicePixelRatio: 1,
    layout: { padding: { left: 124, right: 2, top: 30, bottom: 25 } },
    elements: { point: { radius: 0 }, line: { tension: 0 } },
    plugins: { legend: { display: false }, tooltip: { enabled: false } },
    scales: {
      x: {
        type: 'linear', min: 0, max: 390,
        // one tick per day, labelled every second day
        afterBuildTicks: s => { s.ticks = dayLabels.map((_, d) => ({ value: d * 24 })); },
        afterFit: s => { s.height = 36; },
        ticks: {
          autoSkip: false, maxRotation: 0, padding: 8, color: '#fff', font: { size: 10 },
          callback: v => { const d = Math.round(v / 24); return d % 2 === 0 ? dayLabels[d] : ''; }
        },
        grid: { color: '#4a4a4a', drawTicks: false },
        border: { color: '#fff', dash: [4, 3] },
        title: { display: true, text: 'Date (UTC)', color: '#fff', font: { size: 10 }, padding: 0 }
      },
      y: {
        position: 'left', min: -10, max: 35,
        afterFit: s => { s.width = 39; },
        ticks: { stepSize: 5, padding: 10, color: '#fff', font: { size: 10 } },
        grid: { color: '#4a4a4a', drawTicks: false },
        border: { color: '#fff', dash: [4, 3] },
        title: { display: true, text: '2m Temp. (°C)', color: '#fff', font: { size: 10 }, padding: { top: 2, bottom: 0 } }
      },
      y2: {
        position: 'right', min: 0, max: 40,
        afterFit: s => { s.width = 38; },
        ticks: { stepSize: 10, padding: 7, color: '#fff', font: { size: 10 } },
        grid: { display: false, drawTicks: false },
        border: { color: '#fff' },
        title: { display: true, text: 'Neerslag (mm)', color: '#fff', font: { size: 10 }, padding: { top: 2, bottom: 0 } }
      }
    }
  },
  plugins: [framePlugin]
});

// legend in two columns on the left
const legendItems = memberNames.map((n, k) => ({ name: n, color: memberColors[k] }));
legendItems.push({ name: 'Control', color: '#0a0aff' }, { name: 'Ens. mean', color: '#ffffff' }, { name: 'Oper', color: '#14dc14' });
const legend = document.getElementById('legend');
legendItems.forEach((it, k) => {
  const row = Math.floor(k / 2), col = k % 2;
  const el = document.createElement('div');
  el.className = 'item';
  el.style.left = (col * 54) + 'px';
  el.style.top = (34 + row * 15.1) + 'px';
  el.innerHTML = '<i style="background:' + it.color + '"></i><span>' + it.name + '</span>';
  legend.appendChild(el);
});
</script>
</body>
</html>
